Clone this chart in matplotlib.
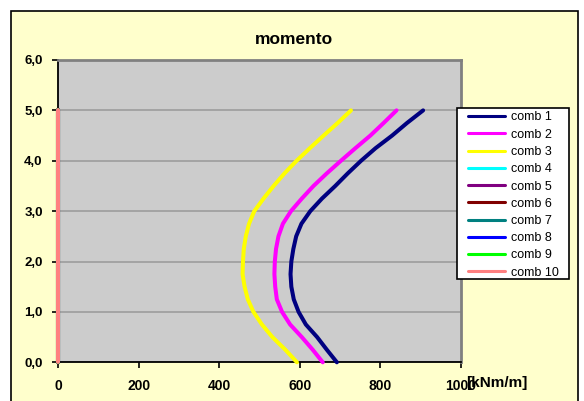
import matplotlib
matplotlib.use("Agg")
import matplotlib.pyplot as plt
from matplotlib.patches import Rectangle
from matplotlib.ticker import FuncFormatter

plt.rcParams['font.family'] = ['Liberation Sans', 'DejaVu Sans']

# profundidade [m]
heights = [0, 0.25, 0.5, 0.75, 1.0, 1.25, 1.5, 1.75, 2.0, 2.25, 2.5,
           2.75, 3.0, 3.25, 3.5, 3.75, 4.0, 4.25, 4.5, 4.75, 5.0]

# momento [kNm/m] por combinacao
comb1 = [692, 667, 643, 615, 597, 585, 579, 577, 579, 584, 591,
         604, 626, 655, 688, 719, 752, 788, 829, 866, 906]
comb2 = [657, 632, 605, 576, 556, 543, 539, 537, 538, 541, 547,
         558, 578, 605, 634, 667, 702, 738, 775, 808, 840]
comb3 = [593, 564, 532, 506, 485, 471, 463, 458, 459, 461, 466,
         474, 487, 510, 535, 562, 592, 625, 659, 694, 727]
comb_zero = [0] * len(heights)

labels = ["comb %d" % i for i in range(1, 11)]
series = [comb1, comb2, comb3] + [comb_zero] * 7
line_colors = ["#000080", "#FF00FF", "#FFFF00", "#00FFFF", "#800080",
               "#800000", "#008080", "#0000FF", "#00FF00", "#FF8080"]

x_ticks = [0, 200, 400, 600, 800, 1000]
y_ticks = [0, 1, 2, 3, 4, 5, 6]

W, H = 584, 401
fig = plt.figure(figsize=(W / 100, H / 100), dpi=100)
fig.patch.set_facecolor("white")

# moldura externa do grafico
fig.patches.append(Rectangle((11 / W, -0.02), (577.7 - 11) / W, (H - 10.7) / H + 0.02,
                             transform=fig.transFigure, facecolor="#FFFFCC",
                             edgecolor="black", linewidth=1.2, zorder=-10))

ax = fig.add_axes([58 / W, (H - 362.3) / H, (461 - 58) / W, (362.3 - 60) / H])
ax.set_facecolor("#CCCCCC")

for vals, col, lab in zip(series, line_colors, labels):
    ax.plot(vals, heights, color=col, linewidth=2.9, label=lab,
            solid_capstyle="round", solid_joinstyle="round", clip_on=False, zorder=3)

ax.set_xlim(0, 1000)
ax.set_ylim(0, 6)
ax.set_xticks(x_ticks)
ax.set_yticks(y_ticks)
ax.yaxis.set_major_formatter(FuncFormatter(lambda v, p: ("%.1f" % v).replace(".", ",")))
ax.grid(axis="y", color="#999999", linewidth=1.1)
ax.set_axisbelow(True)

ax.tick_params(axis="x", direction="out", length=4, width=1.2, pad=8, labelsize=10)
ax.tick_params(axis="y", direction="out", length=4, width=1.2, pad=7, labelsize=9.5)
for lbl in ax.get_xticklabels() + ax.get_yticklabels():
    lbl.set_fontweight("bold")

for side in ["left", "bottom"]:
    ax.spines[side].set_color("black")
    ax.spines[side].set_linewidth(1.3)
for side in ["top", "right"]:
    ax.spines[side].set_color("#808080")
    ax.spines[side].set_linewidth(2)

fig.text(294 / W, 1 - 40 / H, "momento", ha="center", va="center",
         fontsize=12.5, fontweight="bold")
fig.text(497 / W, 1 - 383 / H, "[kNm/m]", ha="center", va="center",
         fontsize=11, fontweight="bold")

# caixa da legenda desenhada a parte (na axes, para ficar abaixo do texto da legenda)
ax.add_patch(Rectangle((457 / W, 1 - 279 / H), (569 - 457) / W, (279 - 108) / H,
                       transform=fig.transFigure, facecolor="white", clip_on=False,
                       edgecolor="black", linewidth=1.2, zorder=5))
leg = ax.legend(loc="upper left", bbox_to_anchor=(468 / W, 1 - 111.5 / H),
                bbox_transform=fig.transFigure, borderaxespad=0, fontsize=9,
                frameon=False, handlelength=2.95, handletextpad=0.48,
                labelspacing=0.42, borderpad=0)
leg.set_zorder(6)
for h in leg.get_lines():
    h.set_linewidth(2.2)

fig.savefig("out.png", dpi=100)
